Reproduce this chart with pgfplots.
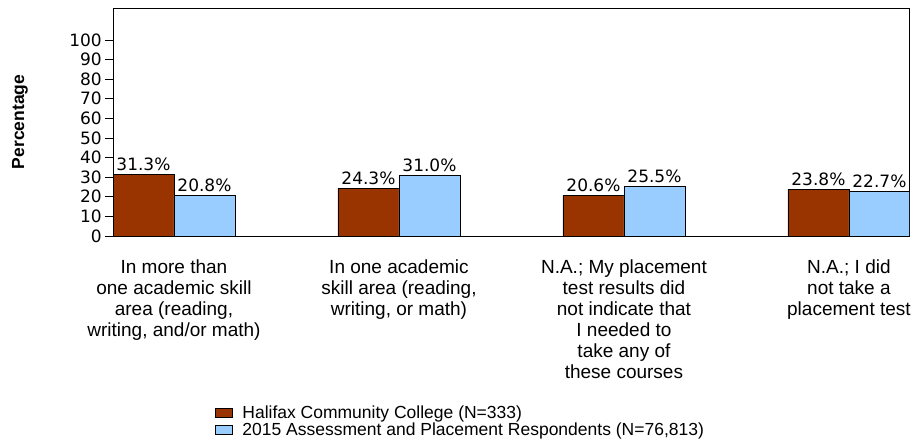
\documentclass[border=0pt]{standalone}
\usepackage{fontspec}
\setmainfont{Liberation Sans}
\newfontfamily\dejavu{DejaVu Sans}
\usepackage{pgfplots}
\pgfplotsset{compat=1.18}
\definecolor{hcc}{HTML}{993300}
\definecolor{nat}{HTML}{99CCFF}
\begin{document}
\begin{tikzpicture}
\useasboundingbox (0,0) rectangle (913pt,445pt);
\begin{axis}[
  at={(113pt,209pt)}, anchor=south west,
  scale only axis, width=796pt, height=228pt,
  ybar=0pt, bar width=61pt,
  xmin=-0.271, xmax=3.267,
  ymin=0, ymax=116.3,
  ytick={0,10,...,100},
  xtick={0,1,2,3},
  xticklabels={{In more than\\one academic skill\\area (reading,\\writing, and/or math)},
               {In one academic\\skill area (reading,\\writing, or math)},
               {N.A.; My placement\\test results did\\not indicate that\\I needed to\\take any of\\these courses},
               {N.A.; I did\\not take a\\placement test}},
  x tick style={draw=none},
  y tick style={black, line width=0.8pt},
  tick align=outside, major tick length=8pt,
  ytick pos=left,
  /pgf/number format/assume math mode=true,
  y tick label style={font=\dejavu\fontsize{17}{17}\selectfont, inner sep=3pt},
  x tick label style={font=\fontsize{19}{21}\selectfont, align=center, yshift=-12pt},
  axis line style={black, line width=0.8pt},
  ylabel={\bfseries Percentage},
  every axis y label/.style={at={(axis description cs:-0.117,0.5)}, rotate=90, anchor=center, font=\fontsize{17.5}{17.5}\selectfont},
  nodes near coords={\pgfmathprintnumber[fixed,precision=1,fixed zerofill]{\pgfplotspointmeta}\%},
  every node near coord/.append style={font=\dejavu\fontsize{17}{17}\selectfont, black, inner sep=3pt},
  legend style={at={(axis description cs:0.128,-0.735)}, anchor=north west, draw=none, fill=none,
    font=\fontsize{17.5}{17.5}\selectfont, row sep=-1.5pt, inner sep=0pt},
  legend cell align=left,
  legend image code/.code={\draw[#1, draw=black, line width=0.6pt] (0pt,-4.5pt) rectangle (17pt,4.5pt); \path[draw=none, fill=none] (0pt,0pt) -- (25pt,0pt);},
]
\addplot[fill=hcc, draw=black, line width=0.8pt] coordinates {(0,31.3) (1,24.3) (2,20.6) (3,23.8)};
\addplot[fill=nat, draw=black, line width=0.8pt] coordinates {(0,20.8) (1,31.0) (2,25.5) (3,22.7)};
\legend{Halifax Community College (N=333), {2015 Assessment and Placement Respondents (N=76,813)}}
\end{axis}
\end{tikzpicture}
\end{document}
